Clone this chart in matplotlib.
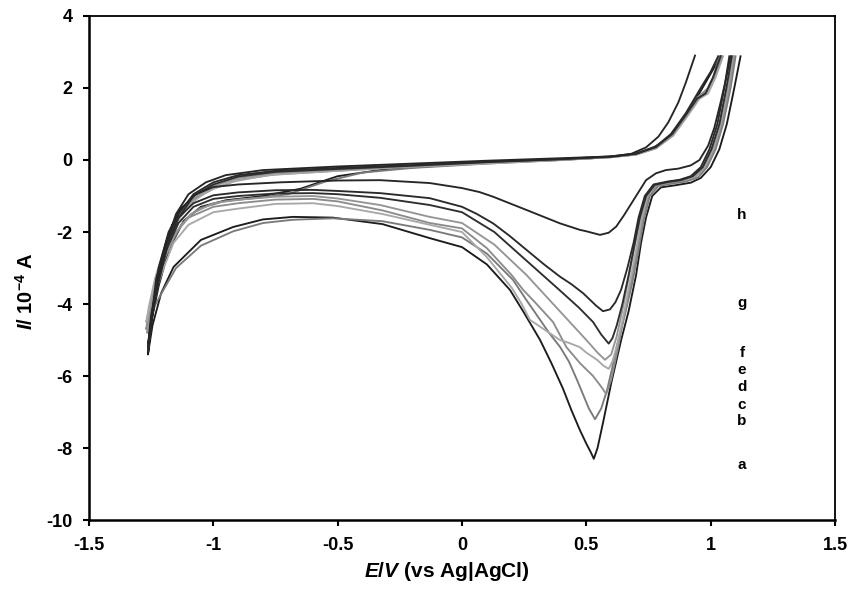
import matplotlib
matplotlib.use("Agg")
import matplotlib.pyplot as plt

plt.rcParams['font.family'] = ['Liberation Sans', 'DejaVu Sans']
plt.rcParams['mathtext.fontset'] = 'custom'
plt.rcParams['mathtext.rm'] = 'Liberation Sans:bold'
plt.rcParams['mathtext.bf'] = 'Liberation Sans:bold'
plt.rcParams['mathtext.it'] = 'Liberation Sans:italic:bold'

# each voltammogram: cathodic branch from the top right down through the peak
# to the left end, then the anodic branch back to the top right
curve_a = [(1.12, 2.88), (1.095, 2.0), (1.065, 1.0), (1.035, 0.3), (1.0, -0.2), (0.96, -0.5),
           (0.92, -0.63), (0.86, -0.7), (0.80, -0.76), (0.765, -1.0), (0.74, -1.6), (0.72, -2.3),
           (0.70, -3.2), (0.67, -4.2), (0.64, -5.0), (0.60, -6.2), (0.567, -7.3), (0.545, -8.0),
           (0.53, -8.3), (0.518, -8.12), (0.5, -7.88), (0.474, -7.5), (0.44, -6.95), (0.406, -6.35),
           (0.36, -5.65), (0.314, -5.0), (0.25, -4.25), (0.193, -3.61), (0.1, -2.9), (0.0, -2.42),
           (-0.13, -2.17), (-0.32, -1.78), (-0.52, -1.6), (-0.68, -1.58), (-0.8, -1.65), (-0.92, -1.86),
           (-1.05, -2.22), (-1.16, -2.97), (-1.21, -3.7), (-1.245, -4.6), (-1.263, -5.4),
           (-1.25, -4.5), (-1.22, -3.5), (-1.18, -2.5), (-1.12, -1.7), (-1.05, -1.3), (-0.95, -1.12),
           (-0.8, -1.0), (-0.65, -0.8), (-0.5, -0.45), (-0.3, -0.25), (0.0, -0.12), (0.3, -0.02),
           (0.55, 0.06), (0.68, 0.14), (0.76, 0.3), (0.83, 0.6), (0.89, 1.1), (0.95, 1.8),
           (1.0, 2.4), (1.04, 2.88)]

curve_b = [(1.10, 2.88), (1.08, 2.0), (1.05, 1.0), (1.02, 0.3), (0.985, -0.2), (0.95, -0.48),
           (0.9, -0.6), (0.85, -0.65), (0.79, -0.72), (0.755, -1.0), (0.73, -1.7), (0.71, -2.5),
           (0.685, -3.4), (0.655, -4.3), (0.625, -5.1), (0.6, -5.9), (0.583, -6.4), (0.56, -6.9),
           (0.535, -7.2), (0.51, -6.9), (0.462, -6.1), (0.43, -5.6), (0.394, -5.19), (0.35, -4.8),
           (0.314, -4.44), (0.26, -3.9), (0.205, -3.33), (0.1, -2.6), (0.0, -2.15), (-0.13, -1.94),
           (-0.32, -1.7), (-0.52, -1.62), (-0.68, -1.66), (-0.8, -1.75), (-0.92, -1.98), (-1.05, -2.38),
           (-1.15, -3.0), (-1.2, -3.6), (-1.24, -4.1), (-1.268, -4.6),
           (-1.255, -4.1), (-1.23, -3.4), (-1.19, -2.6), (-1.13, -1.8), (-1.06, -1.35), (-0.96, -1.15),
           (-0.82, -1.05), (-0.7, -0.95), (-0.55, -0.6), (-0.4, -0.35), (-0.2, -0.22), (0.1, -0.1),
           (0.4, 0.0), (0.6, 0.08), (0.7, 0.16), (0.78, 0.35), (0.84, 0.7), (0.9, 1.25),
           (0.95, 1.75), (0.985, 1.95), (1.01, 2.3), (1.035, 2.88)]

curve_c = [(1.095, 2.88), (1.075, 2.0), (1.045, 1.0), (1.015, 0.3), (0.98, -0.2), (0.94, -0.45),
           (0.89, -0.57), (0.84, -0.62), (0.785, -0.7), (0.75, -1.0), (0.725, -1.7), (0.705, -2.5),
           (0.68, -3.4), (0.65, -4.4), (0.625, -5.3), (0.6, -6.1), (0.58, -6.5), (0.56, -6.3),
           (0.527, -6.0), (0.474, -5.64), (0.42, -5.2), (0.366, -4.5), (0.3, -4.0), (0.245, -3.6),
           (0.2, -3.2), (0.1, -2.45), (0.0, -1.9), (-0.13, -1.75), (-0.32, -1.4), (-0.5, -1.15),
           (-0.6, -1.08), (-0.75, -1.1), (-0.9, -1.2), (-1.0, -1.3), (-1.1, -1.6), (-1.16, -2.1),
           (-1.2, -2.8), (-1.235, -3.6), (-1.27, -4.7),
           (-1.255, -4.2), (-1.225, -3.2), (-1.19, -2.3), (-1.14, -1.6), (-1.08, -1.1), (-1.0, -0.8),
           (-0.9, -0.55), (-0.75, -0.4), (-0.5, -0.3), (-0.2, -0.18), (0.1, -0.08), (0.4, 0.0),
           (0.6, 0.08), (0.7, 0.15), (0.78, 0.33), (0.84, 0.65), (0.9, 1.2), (0.95, 1.75),
           (0.99, 2.0), (1.02, 2.4), (1.045, 2.88)]

curve_d = [(1.09, 2.88), (1.07, 2.0), (1.04, 1.0), (1.01, 0.3), (0.975, -0.2), (0.935, -0.45),
           (0.885, -0.56), (0.835, -0.6), (0.78, -0.68), (0.745, -1.0), (0.72, -1.7), (0.70, -2.5),
           (0.675, -3.4), (0.65, -4.3), (0.625, -5.1), (0.605, -5.6), (0.59, -5.8), (0.57, -5.72),
           (0.543, -5.55), (0.5, -5.35), (0.474, -5.2), (0.43, -5.08), (0.394, -5.0), (0.34, -4.75),
           (0.273, -4.44), (0.24, -4.0), (0.2, -3.55), (0.1, -2.7), (0.0, -2.0), (-0.13, -1.8),
           (-0.32, -1.5), (-0.5, -1.28), (-0.6, -1.2), (-0.75, -1.22), (-0.9, -1.35), (-1.0, -1.45),
           (-1.1, -1.8), (-1.16, -2.3), (-1.2, -3.0), (-1.24, -3.8), (-1.27, -4.5),
           (-1.26, -4.1), (-1.235, -3.3), (-1.2, -2.5), (-1.15, -1.75), (-1.09, -1.2), (-1.02, -0.85),
           (-0.92, -0.6), (-0.78, -0.42), (-0.55, -0.32), (-0.25, -0.2), (0.1, -0.1), (0.4, 0.0),
           (0.6, 0.08), (0.7, 0.15), (0.78, 0.32), (0.85, 0.68), (0.91, 1.25), (0.955, 1.7),
           (0.99, 1.85), (1.02, 2.3), (1.05, 2.88)]

curve_e = [(1.088, 2.88), (1.067, 2.0), (1.038, 1.0), (1.006, 0.3), (0.97, -0.2), (0.93, -0.45),
           (0.882, -0.57), (0.832, -0.62), (0.777, -0.7), (0.742, -1.0), (0.717, -1.6), (0.697, -2.3),
           (0.672, -3.2), (0.647, -4.1), (0.622, -4.9), (0.6, -5.4), (0.575, -5.55), (0.545, -5.35),
           (0.5, -5.0), (0.44, -4.55), (0.36, -3.95), (0.26, -3.2), (0.13, -2.35), (0.0, -1.75),
           (-0.13, -1.58), (-0.33, -1.25), (-0.5, -1.07), (-0.6, -1.0), (-0.75, -1.02), (-0.9, -1.1),
           (-1.0, -1.2), (-1.09, -1.5), (-1.15, -2.0), (-1.2, -2.8), (-1.235, -3.7), (-1.266, -4.8),
           (-1.255, -4.3), (-1.228, -3.3), (-1.195, -2.4), (-1.145, -1.65), (-1.085, -1.1), (-1.01, -0.75),
           (-0.9, -0.5), (-0.75, -0.36), (-0.5, -0.27), (-0.2, -0.17), (0.1, -0.07), (0.4, 0.01),
           (0.6, 0.08), (0.7, 0.16), (0.78, 0.34), (0.845, 0.68), (0.9, 1.2), (0.95, 1.72),
           (0.985, 1.9), (1.015, 2.35), (1.045, 2.88)]

curve_f = [(1.085, 2.88), (1.063, 2.0), (1.035, 1.0), (1.003, 0.3), (0.968, -0.2), (0.928, -0.45),
           (0.88, -0.56), (0.83, -0.61), (0.775, -0.69), (0.74, -1.0), (0.715, -1.6), (0.695, -2.3),
           (0.67, -3.2), (0.645, -4.0), (0.622, -4.6), (0.605, -4.95), (0.59, -5.1), (0.56, -4.85),
           (0.527, -4.5), (0.47, -4.1), (0.39, -3.6), (0.26, -2.8), (0.13, -2.0), (0.0, -1.45),
           (-0.13, -1.25), (-0.33, -1.05), (-0.5, -0.95), (-0.6, -0.92), (-0.75, -0.93), (-0.9, -1.0),
           (-1.0, -1.08), (-1.08, -1.3), (-1.14, -1.75), (-1.19, -2.5), (-1.23, -3.5), (-1.263, -5.3),
           (-1.25, -4.5), (-1.22, -3.4), (-1.185, -2.4), (-1.14, -1.6), (-1.08, -1.0), (-1.0, -0.68),
           (-0.9, -0.46), (-0.75, -0.33), (-0.5, -0.25), (-0.2, -0.16), (0.1, -0.06), (0.4, 0.02),
           (0.6, 0.09), (0.7, 0.17), (0.78, 0.36), (0.845, 0.72), (0.9, 1.25), (0.945, 1.7),
           (0.98, 1.85), (1.01, 2.3), (1.04, 2.88)]

curve_g = [(1.075, 2.88), (1.055, 2.0), (1.027, 1.0), (0.995, 0.3), (0.96, -0.2), (0.92, -0.45),
           (0.875, -0.55), (0.825, -0.6), (0.77, -0.68), (0.735, -1.0), (0.71, -1.6), (0.69, -2.3),
           (0.665, -3.0), (0.64, -3.6), (0.617, -3.95), (0.595, -4.15), (0.567, -4.2), (0.54, -4.05),
           (0.487, -3.7), (0.44, -3.45), (0.394, -3.24), (0.33, -2.9), (0.26, -2.5), (0.19, -2.1),
           (0.125, -1.76), (0.06, -1.5), (0.0, -1.3), (-0.13, -1.06), (-0.33, -0.92), (-0.5, -0.86),
           (-0.6, -0.83), (-0.75, -0.84), (-0.9, -0.9), (-1.0, -0.98), (-1.08, -1.2), (-1.14, -1.6),
           (-1.19, -2.3), (-1.23, -3.3), (-1.262, -5.2),
           (-1.25, -4.4), (-1.22, -3.3), (-1.185, -2.3), (-1.14, -1.5), (-1.08, -0.95), (-1.0, -0.62),
           (-0.9, -0.42), (-0.75, -0.3), (-0.5, -0.22), (-0.2, -0.14), (0.1, -0.05), (0.4, 0.03),
           (0.6, 0.1), (0.7, 0.18), (0.78, 0.38), (0.84, 0.72), (0.9, 1.3), (0.96, 2.0),
           (1.0, 2.45), (1.03, 2.88)]

curve_h = [(1.08, 2.88), (1.06, 2.2), (1.04, 1.6), (1.015, 0.9), (0.99, 0.4), (0.955, 0.0),
           (0.92, -0.15), (0.87, -0.24), (0.82, -0.28), (0.78, -0.37), (0.74, -0.56), (0.69, -1.11),
           (0.65, -1.55), (0.62, -1.85), (0.59, -2.02), (0.555, -2.08), (0.5, -1.98), (0.474, -1.94),
           (0.394, -1.76), (0.26, -1.39), (0.125, -1.02), (0.07, -0.89), (0.0, -0.78), (-0.13, -0.64),
           (-0.33, -0.56), (-0.5, -0.57), (-0.73, -0.62), (-0.9, -0.68), (-1.0, -0.75), (-1.07, -0.95),
           (-1.13, -1.35), (-1.18, -2.0), (-1.22, -3.0), (-1.262, -5.1),
           (-1.25, -4.3), (-1.22, -3.2), (-1.19, -2.3), (-1.15, -1.5), (-1.1, -0.95), (-1.03, -0.62),
           (-0.95, -0.42), (-0.8, -0.28), (-0.5, -0.18), (-0.2, -0.1), (0.1, -0.02), (0.4, 0.05),
           (0.6, 0.1), (0.68, 0.17), (0.74, 0.35), (0.79, 0.65), (0.83, 1.05), (0.87, 1.6),
           (0.9, 2.15), (0.937, 2.9)]

curves = [curve_a, curve_b, curve_c, curve_d, curve_e, curve_f, curve_g, curve_h]
colors = ['#1c1c1c', '#7a7a7a', '#8c8c8c', '#a8a8a8', '#959595', '#2e2e2e', '#2a2a2a', '#262626']

letters = ['a', 'b', 'c', 'd', 'e', 'f', 'g', 'h']
letter_y = [-8.47, -7.25, -6.8, -6.3, -5.83, -5.37, -3.97, -1.53]
letter_x = 1.126

x_ticks = [-1.5, -1, -0.5, 0, 0.5, 1, 1.5]
x_labels = ['-1.5', '-1', '-0.5', '0', '0.5', '1', '1.5']
y_ticks = [-10, -8, -6, -4, -2, 0, 2, 4]
y_labels = ['-10', '-8', '-6', '-4', '-2', '0', '2', '4']

fig = plt.figure(figsize=(8.61, 5.90), dpi=100)
ax = fig.add_axes([0.1034, 0.1186, 0.8664, 0.8543])

for pts, col in zip(curves, colors):
    ax.plot([p[0] for p in pts], [p[1] for p in pts], color=col, lw=1.35, solid_joinstyle='round')

for lab, ly in zip(letters, letter_y):
    ax.text(letter_x, ly, lab, ha='center', va='center', fontsize=11, fontweight='bold')

ax.set_xlim(-1.5, 1.5)
ax.set_ylim(-10, 4)
ax.set_xticks(x_ticks)
ax.set_xticklabels(x_labels, fontweight='bold', fontsize=13)
ax.set_yticks(y_ticks)
ax.set_yticklabels(y_labels, fontweight='bold', fontsize=13)
ax.tick_params(direction='out', length=4, width=1.5, pad=8)
for side in ['left', 'bottom']:
    ax.spines[side].set_linewidth(1.8)
for side in ['top', 'right']:
    ax.spines[side].set_linewidth(1.3)

fig.text(0.519, 0.031, r'$\it{E/V}$ (vs Ag|AgCl)', ha='center', va='center',
         fontsize=15, fontweight='bold')
fig.text(0.030, 0.507, r'$\it{I/}$ 10$^{-4}$ A', ha='center', va='center',
         fontsize=14.5, fontweight='bold', rotation=90)

fig.savefig('out.png', dpi=100)
